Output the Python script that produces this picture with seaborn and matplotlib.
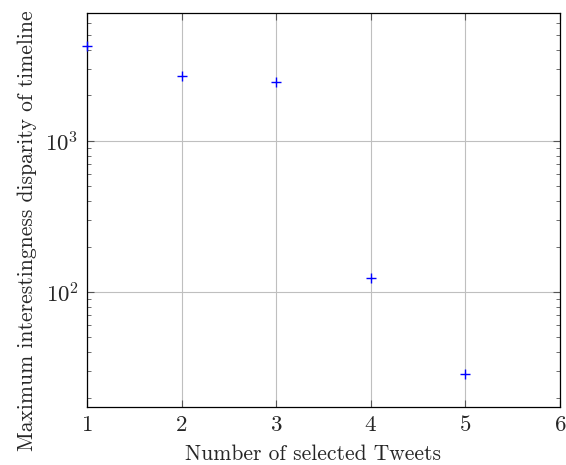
import numpy as np
import pandas as pd
import seaborn as sns
import matplotlib
matplotlib.use('Agg')
import matplotlib.pyplot as plt

# values
tweets = [1, 2, 3, 4, 5]
disparity = [4250, 2700, 2460, 124, 28.6]

df = pd.DataFrame({'tweets': tweets, 'disparity': disparity})

sns.set_style("ticks")
plt.rcParams['font.family'] = ['cmr10', 'DejaVu Serif']
plt.rcParams['mathtext.fontset'] = 'cm'
plt.rcParams['axes.formatter.use_mathtext'] = True

fig = plt.figure(figsize=(5.66, 4.65), dpi=100)
ax = fig.add_axes([0.1537, 0.1254, 0.8357, 0.846])

sns.scatterplot(data=df, x='tweets', y='disparity', marker='+', color='blue',
                s=60, linewidth=1.0, ax=ax, zorder=3, clip_on=False)

ax.set_yscale('log')
ax.set_xlim(1, 6)
ax.set_ylim(17.4, 7000)
ax.set_xticks([1, 2, 3, 4, 5, 6])
ax.grid(True, which='major', color='#bfbfbf', linewidth=0.8)
ax.set_axisbelow(True)

for s in ax.spines.values():
    s.set_color('black')
    s.set_linewidth(0.9)

ax.tick_params(which='both', direction='in', top=True, right=True, color='#555555')
ax.tick_params(which='major', length=5, labelsize=16.5, pad=6)
ax.tick_params(which='minor', length=3)
ax.tick_params(axis='x', which='minor', bottom=False, top=False)

ax.set_xlabel('Number of selected Tweets', fontsize=15.5)
ax.set_ylabel('Maximum interestingness disparity of timeline', fontsize=15.5)
ax.xaxis.set_label_coords(0.478, -0.095)
ax.yaxis.set_label_coords(-0.106, 0.447)

plt.savefig('out.png', dpi=100)
